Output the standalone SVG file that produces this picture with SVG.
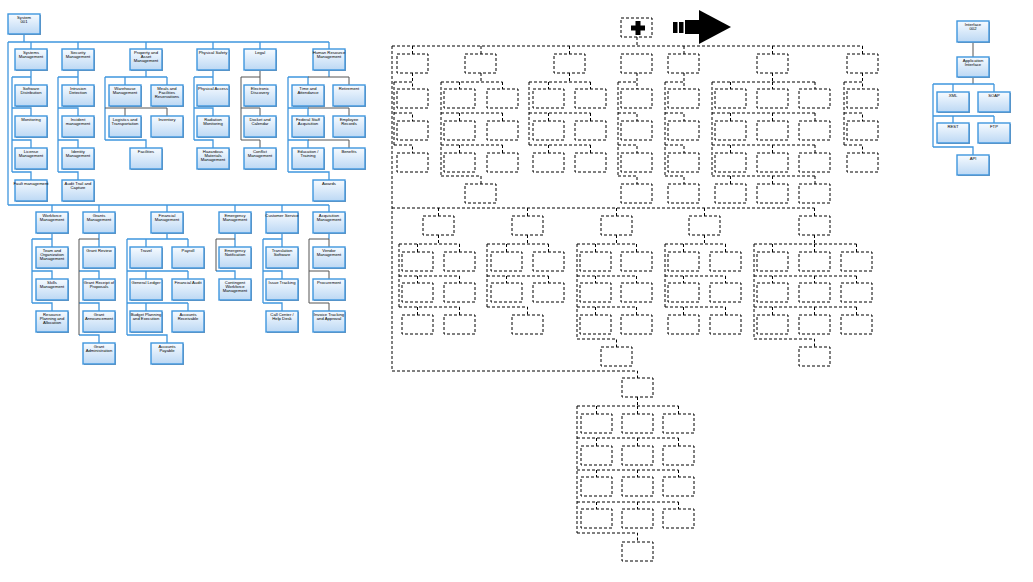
<svg xmlns="http://www.w3.org/2000/svg" width="1033" height="582" viewBox="0 0 1033 582">
<defs>
<linearGradient id="g" x1="0" y1="0" x2="0" y2="1"><stop offset="0" stop-color="#f7fbff"/><stop offset="1" stop-color="#bcd8f4"/></linearGradient>
<style>
.s{fill:#8a929c}
.b{fill:url(#g);stroke:#3f96de;stroke-width:1.4}
.t{font-family:"Liberation Sans",Arial,sans-serif;font-size:4.2px;text-anchor:middle;fill:#000}
.cb{fill:none;stroke:#3f96de;stroke-width:1.3}
.cg{fill:none;stroke:#555;stroke-width:1}
.d{fill:none;stroke:#000;stroke-width:1;stroke-dasharray:3 2}
.k{fill:#000}
</style>
</defs>
<rect width="1033" height="582" fill="#fff"/>

<g id="connectors">
<g id="left-connectors">
<path class="cb" d="M24 34V42M8 42H329M31 42V49M78 42V49M146 42V49M213 42V49M260 42V49M329 42V49M8 42V205M8 205H329M52 205V212M99 205V212M167 205V212M235 205V212M282 205V212M329 205V212"/>
<path class="cb" d="M31 70V77M12 77V172M12 77H31V85M12 108H31V116M12 140H31V148M12 172H31V180"/>
<path class="cb" d="M78 70V77M58 77V172M58 77H78V85M58 108H78V116M58 140H78V148M58 172H78V180"/>
<path class="cb" d="M146 70V77M105 77V140M105 77H167M125 77V85M167 77V85"/>
<path class="cg" d="M105 108H167M125 108V116M167 108V116"/>
<path class="cb" d="M105 140H146V148"/>
<path class="cb" d="M213 70V77M194 77V140M194 77H213V85M194 108H213V116M194 140H213V148"/>
<path class="cg" d="M260 70V77M241 77V140M241 77H260V85M241 108H260V116M241 140H260V148"/>
<path class="cb" d="M329 70V77M288 77V172M288 77H308V85M288 108H308V116M288 140H308V148M288 172H329V180"/>
<path class="cg" d="M308 77H349V85M308 108H349V116M308 140H349V148"/>
<path class="cb" d="M52 233V239M32 239V303M32 239H52V247M32 271H52V279M32 303H52V311"/>
<path class="cb" d="M99 233V239M99 239V247M79 271H99V279M79 303H99V311M79 335H99V343"/>
<path class="cg" d="M79 239V335M79 239H99"/>
<path class="cb" d="M167 233V239M127 239V335M127 239H188M146 239V247M188 239V247M127 271H188M146 271V279M188 271V279M127 303H188M146 303V311M188 303V311M127 335H167V343"/>
<path class="cb" d="M235 233V239M235 239V247M216 271H235V279"/>
<path class="cg" d="M216 239V271M216 239H235"/>
<path class="cb" d="M282 233V239M263 239V303M263 239H282V247M263 271H282V279M263 303H282V311"/>
<path class="cb" d="M329 233V239"/>
<path class="cg" d="M309 239V303M309 239H329V247M309 271H329V279M309 303H329V311"/>
</g>
<g id="right-connectors">
<path class="cg" d="M973 42V57"/>
<path class="cg" d="M973 77V84"/>
<path class="cb" d="M933 84V147M933 84H994M953 84V92M994 84V92M933 116H994M953 116V123M994 116V123M933 147H973V155"/>
</g>
<g id="dashed-connectors">
<path class="d" d="M637 37V46M392 46H862.5M412.5 46V54M481 46V54M569.5 46V54M684 46V54M772.5 46V54M862.5 46V54M392 46V371M392 208H814.5M438.5 208V216M527.5 208V216M616.5 208V216M704.5 208V216M814.5 208V216M392 371H637.5V378"/>
<path class="d" d="M412.5 73V82M394 82V145M394 82H412.5V89M394 113H412.5V121M394 145H412.5V153"/>
<path class="d" d="M481 73V82M441 82V176M441 82H502.5M459.5 82V89M502.5 82V89M441 113H502.5M459.5 113V121M502.5 113V121M441 145H502.5M459.5 145V153M502.5 145V153M441 176H481V184"/>
<path class="d" d="M569.5 73V82M529 82V145M529 82H590.5M548.5 82V89M590.5 82V89M529 113H590.5M548.5 113V121M590.5 113V121M529 145H590.5M548.5 145V153M590.5 145V153"/>
<path class="d" d="M637 73V82M618 82V176M618 82H637V89M618 113H637V121M618 145H637V153M618 176H637V184"/>
<path class="d" d="M684 73V82M665 82V176M665 82H684V89M665 113H684V121M665 145H684V153M665 176H684V184"/>
<path class="d" d="M772.5 73V82M712 82V176M712 82H815M730.5 82V89M772.5 82V89M815 82V89M712 113H815M730.5 113V121M772.5 113V121M815 113V121M712 145H815M730.5 145V153M772.5 145V153M815 145V153M712 176H815M730.5 176V184M772.5 176V184M815 176V184"/>
<path class="d" d="M862.5 73V82M844 82V145M844 82H862.5V89M844 113H862.5V121M844 145H862.5V153"/>
<path class="d" d="M438.5 235V244M399 244V307M399 244H459.5M417.5 244V252M459.5 244V252M399 276H459.5M417.5 276V283M459.5 276V283M399 307H459.5M417.5 307V315M459.5 307V315"/>
<path class="d" d="M527.5 235V244M487 244V307M487 244H548.5M506.5 244V252M548.5 244V252M487 276H548.5M506.5 276V283M548.5 276V283M487 307H527.5V315"/>
<path class="d" d="M616.5 235V244M577 244V339M577 244H636.5M595.5 244V252M636.5 244V252M577 276H636.5M595.5 276V283M636.5 276V283M577 307H636.5M595.5 307V315M636.5 307V315M577 339H616.5V347"/>
<path class="d" d="M704.5 235V244M665 244V307M665 244H725.5M683.5 244V252M725.5 244V252M665 276H725.5M683.5 276V283M725.5 276V283M665 307H725.5M683.5 307V315M725.5 307V315"/>
<path class="d" d="M814.5 235V244M754 244V339M754 244H856.5M772.5 244V252M814.5 244V252M856.5 244V252M754 276H856.5M772.5 276V283M814.5 276V283M856.5 276V283M754 307H856.5M772.5 307V315M814.5 307V315M856.5 307V315M754 339H814.5V347"/>
<path class="d" d="M637.5 397V406M577 406V533M577 406H678.5M596.5 406V414M637.5 406V414M678.5 406V414M577 438H678.5M596.5 438V446M637.5 438V446M678.5 438V446M577 470H678.5M596.5 470V477M637.5 470V477M678.5 470V477M577 502H678.5M596.5 502V509M637.5 502V509M678.5 502V509M577 533H637.5V542"/>
</g>
</g>

<g id="n-system"><rect class="s" x="9" y="15" width="32" height="20"/><rect class="b" x="8" y="14" width="32" height="20"/><text class="t" x="24" y="19">System</text><text class="t" x="24" y="23.2">001</text></g>

<g id="n-sysm"><rect class="s" x="16" y="50" width="32" height="21"/><rect class="b" x="15" y="49" width="32" height="21"/><text class="t" x="31" y="54">Systems</text><text class="t" x="31" y="58.2">Management</text></g>
<g id="n-secm"><rect class="s" x="63" y="50" width="32" height="21"/><rect class="b" x="62" y="49" width="32" height="21"/><text class="t" x="78" y="54">Security</text><text class="t" x="78" y="58.2">Management</text></g>
<g id="n-prop"><rect class="s" x="131" y="50" width="32" height="21"/><rect class="b" x="130" y="49" width="32" height="21"/><text class="t" x="146" y="54">Property and</text><text class="t" x="146" y="58.2">Asset</text><text class="t" x="146" y="62.4">Management</text></g>
<g id="n-phys"><rect class="s" x="198" y="50" width="32" height="21"/><rect class="b" x="197" y="49" width="32" height="21"/><text class="t" x="213" y="54">Physical Safety</text></g>
<g id="n-legal"><rect class="s" x="245" y="50" width="32" height="21"/><rect class="b" x="244" y="49" width="32" height="21"/><text class="t" x="260" y="54">Legal</text></g>
<g id="n-hr"><rect class="s" x="314" y="50" width="32" height="21"/><rect class="b" x="313" y="49" width="32" height="21"/><text class="t" x="329" y="54">Human Resource</text><text class="t" x="329" y="58.2">Management</text></g>

<g id="n-swdist"><rect class="s" x="16" y="86" width="32" height="21"/><rect class="b" x="15" y="85" width="32" height="21"/><text class="t" x="31" y="90">Software</text><text class="t" x="31" y="94.2">Distribution</text></g>
<g id="n-monitor"><rect class="s" x="16" y="117" width="32" height="21"/><rect class="b" x="15" y="116" width="32" height="21"/><text class="t" x="31" y="121">Monitoring</text></g>
<g id="n-license"><rect class="s" x="16" y="149" width="32" height="21"/><rect class="b" x="15" y="148" width="32" height="21"/><text class="t" x="31" y="153">License</text><text class="t" x="31" y="157.2">Management</text></g>
<g id="n-fault"><rect class="s" x="16" y="181" width="32" height="21"/><rect class="b" x="15" y="180" width="32" height="21"/><text class="t" x="31" y="185">Fault management</text></g>

<g id="n-intrusion"><rect class="s" x="63" y="86" width="32" height="21"/><rect class="b" x="62" y="85" width="32" height="21"/><text class="t" x="78" y="90">Intrusion</text><text class="t" x="78" y="94.2">Detection</text></g>
<g id="n-incident"><rect class="s" x="63" y="117" width="32" height="21"/><rect class="b" x="62" y="116" width="32" height="21"/><text class="t" x="78" y="121">Incident</text><text class="t" x="78" y="125.2">management</text></g>
<g id="n-identity"><rect class="s" x="63" y="149" width="32" height="21"/><rect class="b" x="62" y="148" width="32" height="21"/><text class="t" x="78" y="153">Identity</text><text class="t" x="78" y="157.2">Management</text></g>
<g id="n-audit"><rect class="s" x="63" y="181" width="32" height="21"/><rect class="b" x="62" y="180" width="32" height="21"/><text class="t" x="78" y="185">Audit Trail and</text><text class="t" x="78" y="189.2">Capture</text></g>

<g id="n-warehouse"><rect class="s" x="110" y="86" width="32" height="21"/><rect class="b" x="109" y="85" width="32" height="21"/><text class="t" x="125" y="90">Warehouse</text><text class="t" x="125" y="94.2">Management</text></g>
<g id="n-meals"><rect class="s" x="152" y="86" width="32" height="21"/><rect class="b" x="151" y="85" width="32" height="21"/><text class="t" x="167" y="90">Meals and</text><text class="t" x="167" y="94.2">Facilities</text><text class="t" x="167" y="98.4">Reservations</text></g>
<g id="n-logistics"><rect class="s" x="110" y="117" width="32" height="21"/><rect class="b" x="109" y="116" width="32" height="21"/><text class="t" x="125" y="121">Logistics and</text><text class="t" x="125" y="125.2">Transportation</text></g>
<g id="n-inventory"><rect class="s" x="152" y="117" width="32" height="21"/><rect class="b" x="151" y="116" width="32" height="21"/><text class="t" x="167" y="121">Inventory</text></g>
<g id="n-facilities"><rect class="s" x="131" y="149" width="32" height="21"/><rect class="b" x="130" y="148" width="32" height="21"/><text class="t" x="146" y="153">Facilities</text></g>

<g id="n-physaccess"><rect class="s" x="198" y="86" width="32" height="21"/><rect class="b" x="197" y="85" width="32" height="21"/><text class="t" x="213" y="90">Physical Access</text></g>
<g id="n-radiation"><rect class="s" x="198" y="117" width="32" height="21"/><rect class="b" x="197" y="116" width="32" height="21"/><text class="t" x="213" y="121">Radiation</text><text class="t" x="213" y="125.2">Monitoring</text></g>
<g id="n-hazard"><rect class="s" x="198" y="149" width="32" height="21"/><rect class="b" x="197" y="148" width="32" height="21"/><text class="t" x="213" y="153">Hazardous</text><text class="t" x="213" y="157.2">Materials</text><text class="t" x="213" y="161.4">Management</text></g>

<g id="n-ediscovery"><rect class="s" x="245" y="86" width="32" height="21"/><rect class="b" x="244" y="85" width="32" height="21"/><text class="t" x="260" y="90">Electronic</text><text class="t" x="260" y="94.2">Discovery</text></g>
<g id="n-docket"><rect class="s" x="245" y="117" width="32" height="21"/><rect class="b" x="244" y="116" width="32" height="21"/><text class="t" x="260" y="121">Docket and</text><text class="t" x="260" y="125.2">Calendar</text></g>
<g id="n-conflict"><rect class="s" x="245" y="149" width="32" height="21"/><rect class="b" x="244" y="148" width="32" height="21"/><text class="t" x="260" y="153">Conflict</text><text class="t" x="260" y="157.2">Management</text></g>

<g id="n-time"><rect class="s" x="293" y="86" width="32" height="21"/><rect class="b" x="292" y="85" width="32" height="21"/><text class="t" x="308" y="90">Time and</text><text class="t" x="308" y="94.2">Attendance</text></g>
<g id="n-retire"><rect class="s" x="334" y="86" width="32" height="21"/><rect class="b" x="333" y="85" width="32" height="21"/><text class="t" x="349" y="90">Retirement</text></g>
<g id="n-federal"><rect class="s" x="293" y="117" width="32" height="21"/><rect class="b" x="292" y="116" width="32" height="21"/><text class="t" x="308" y="121">Federal Staff</text><text class="t" x="308" y="125.2">Acquisition</text></g>
<g id="n-records"><rect class="s" x="334" y="117" width="32" height="21"/><rect class="b" x="333" y="116" width="32" height="21"/><text class="t" x="349" y="121">Employee</text><text class="t" x="349" y="125.2">Records</text></g>
<g id="n-education"><rect class="s" x="293" y="149" width="32" height="21"/><rect class="b" x="292" y="148" width="32" height="21"/><text class="t" x="308" y="153">Education /</text><text class="t" x="308" y="157.2">Training</text></g>
<g id="n-benefits"><rect class="s" x="334" y="149" width="32" height="21"/><rect class="b" x="333" y="148" width="32" height="21"/><text class="t" x="349" y="153">Benefits</text></g>
<g id="n-awards"><rect class="s" x="314" y="181" width="32" height="21"/><rect class="b" x="313" y="180" width="32" height="21"/><text class="t" x="329" y="185">Awards</text></g>

<g id="n-wf"><rect class="s" x="37" y="213" width="32" height="21"/><rect class="b" x="36" y="212" width="32" height="21"/><text class="t" x="52" y="217">Workforce</text><text class="t" x="52" y="221.2">Management</text></g>
<g id="n-grants"><rect class="s" x="84" y="213" width="32" height="21"/><rect class="b" x="83" y="212" width="32" height="21"/><text class="t" x="99" y="217">Grants</text><text class="t" x="99" y="221.2">Management</text></g>
<g id="n-fin"><rect class="s" x="152" y="213" width="32" height="21"/><rect class="b" x="151" y="212" width="32" height="21"/><text class="t" x="167" y="217">Financial</text><text class="t" x="167" y="221.2">Management</text></g>
<g id="n-em"><rect class="s" x="220" y="213" width="32" height="21"/><rect class="b" x="219" y="212" width="32" height="21"/><text class="t" x="235" y="217">Emergency</text><text class="t" x="235" y="221.2">Management</text></g>
<g id="n-cs"><rect class="s" x="267" y="213" width="32" height="21"/><rect class="b" x="266" y="212" width="32" height="21"/><text class="t" x="282" y="217">Customer Service</text></g>
<g id="n-acq"><rect class="s" x="314" y="213" width="32" height="21"/><rect class="b" x="313" y="212" width="32" height="21"/><text class="t" x="329" y="217">Acquisition</text><text class="t" x="329" y="221.2">Management</text></g>

<g id="n-team"><rect class="s" x="37" y="248" width="32" height="21"/><rect class="b" x="36" y="247" width="32" height="21"/><text class="t" x="52" y="252">Team and</text><text class="t" x="52" y="256.2">Organization</text><text class="t" x="52" y="260.4">Management</text></g>
<g id="n-skills"><rect class="s" x="37" y="280" width="32" height="21"/><rect class="b" x="36" y="279" width="32" height="21"/><text class="t" x="52" y="284">Skills</text><text class="t" x="52" y="288.2">Management</text></g>
<g id="n-resource"><rect class="s" x="37" y="312" width="32" height="21"/><rect class="b" x="36" y="311" width="32" height="21"/><text class="t" x="52" y="316">Resource</text><text class="t" x="52" y="320.2">Planning and</text><text class="t" x="52" y="324.4">Allocation</text></g>

<g id="n-grantreview"><rect class="s" x="84" y="248" width="32" height="21"/><rect class="b" x="83" y="247" width="32" height="21"/><text class="t" x="99" y="252">Grant Review</text></g>
<g id="n-grantreceipt"><rect class="s" x="84" y="280" width="32" height="21"/><rect class="b" x="83" y="279" width="32" height="21"/><text class="t" x="99" y="284">Grant Receipt of</text><text class="t" x="99" y="288.2">Proposals</text></g>
<g id="n-grantann"><rect class="s" x="84" y="312" width="32" height="21"/><rect class="b" x="83" y="311" width="32" height="21"/><text class="t" x="99" y="316">Grant</text><text class="t" x="99" y="320.2">Announcement</text></g>
<g id="n-grantadmin"><rect class="s" x="84" y="344" width="32" height="21"/><rect class="b" x="83" y="343" width="32" height="21"/><text class="t" x="99" y="348">Grant</text><text class="t" x="99" y="352.2">Administration</text></g>

<g id="n-travel"><rect class="s" x="131" y="248" width="32" height="21"/><rect class="b" x="130" y="247" width="32" height="21"/><text class="t" x="146" y="252">Travel</text></g>
<g id="n-payroll"><rect class="s" x="173" y="248" width="32" height="21"/><rect class="b" x="172" y="247" width="32" height="21"/><text class="t" x="188" y="252">Payroll</text></g>
<g id="n-ledger"><rect class="s" x="131" y="280" width="32" height="21"/><rect class="b" x="130" y="279" width="32" height="21"/><text class="t" x="146" y="284">General Ledger</text></g>
<g id="n-finaudit"><rect class="s" x="173" y="280" width="32" height="21"/><rect class="b" x="172" y="279" width="32" height="21"/><text class="t" x="188" y="284">Financial Audit</text></g>
<g id="n-budget"><rect class="s" x="131" y="312" width="32" height="21"/><rect class="b" x="130" y="311" width="32" height="21"/><text class="t" x="146" y="316">Budget Planning</text><text class="t" x="146" y="320.2">and Execution</text></g>
<g id="n-receivable"><rect class="s" x="173" y="312" width="32" height="21"/><rect class="b" x="172" y="311" width="32" height="21"/><text class="t" x="188" y="316">Accounts</text><text class="t" x="188" y="320.2">Receivable</text></g>
<g id="n-payable"><rect class="s" x="152" y="344" width="32" height="21"/><rect class="b" x="151" y="343" width="32" height="21"/><text class="t" x="167" y="348">Accounts</text><text class="t" x="167" y="352.2">Payable</text></g>

<g id="n-emnotify"><rect class="s" x="220" y="248" width="32" height="21"/><rect class="b" x="219" y="247" width="32" height="21"/><text class="t" x="235" y="252">Emergency</text><text class="t" x="235" y="256.2">Notification</text></g>
<g id="n-contingent"><rect class="s" x="220" y="280" width="32" height="21"/><rect class="b" x="219" y="279" width="32" height="21"/><text class="t" x="235" y="284">Contingent</text><text class="t" x="235" y="288.2">Workforce</text><text class="t" x="235" y="292.4">Management</text></g>

<g id="n-translation"><rect class="s" x="267" y="248" width="32" height="21"/><rect class="b" x="266" y="247" width="32" height="21"/><text class="t" x="282" y="252">Translation</text><text class="t" x="282" y="256.2">Software</text></g>
<g id="n-issue"><rect class="s" x="267" y="280" width="32" height="21"/><rect class="b" x="266" y="279" width="32" height="21"/><text class="t" x="282" y="284">Issue Tracking</text></g>
<g id="n-callcenter"><rect class="s" x="267" y="312" width="32" height="21"/><rect class="b" x="266" y="311" width="32" height="21"/><text class="t" x="282" y="316">Call Center /</text><text class="t" x="282" y="320.2">Help Desk</text></g>

<g id="n-vendor"><rect class="s" x="314" y="248" width="32" height="21"/><rect class="b" x="313" y="247" width="32" height="21"/><text class="t" x="329" y="252">Vendor</text><text class="t" x="329" y="256.2">Management</text></g>
<g id="n-procure"><rect class="s" x="314" y="280" width="32" height="21"/><rect class="b" x="313" y="279" width="32" height="21"/><text class="t" x="329" y="284">Procurement</text></g>
<g id="n-invoice"><rect class="s" x="314" y="312" width="32" height="21"/><rect class="b" x="313" y="311" width="32" height="21"/><text class="t" x="329" y="316">Invoice Tracking</text><text class="t" x="329" y="320.2">and Approval</text></g>

<g id="n-interface"><rect class="s" x="958" y="22" width="32" height="21"/><rect class="b" x="957" y="21" width="32" height="21"/><text class="t" x="973" y="26">Interface</text><text class="t" x="973" y="30.2">002</text></g>
<g id="n-appif"><rect class="s" x="958" y="58" width="32" height="20"/><rect class="b" x="957" y="57" width="32" height="20"/><text class="t" x="973" y="62">Application</text><text class="t" x="973" y="66.2">Interface</text></g>
<g id="n-xml"><rect class="s" x="938" y="93" width="32" height="20"/><rect class="b" x="937" y="92" width="32" height="20"/><text class="t" x="953" y="97">XML</text></g>
<g id="n-soap"><rect class="s" x="979" y="93" width="32" height="20"/><rect class="b" x="978" y="92" width="32" height="20"/><text class="t" x="994" y="97">SOAP</text></g>
<g id="n-rest"><rect class="s" x="938" y="124" width="32" height="20"/><rect class="b" x="937" y="123" width="32" height="20"/><text class="t" x="953" y="128">REST</text></g>
<g id="n-ftp"><rect class="s" x="979" y="124" width="32" height="20"/><rect class="b" x="978" y="123" width="32" height="20"/><text class="t" x="994" y="128">FTP</text></g>
<g id="n-api"><rect class="s" x="958" y="156" width="32" height="20"/><rect class="b" x="957" y="155" width="32" height="20"/><text class="t" x="973" y="160">API</text></g>

<g id="n-plus"><rect class="d" x="621" y="18" width="31" height="19"/><rect class="k" x="631" y="25.5" width="14" height="5"/><rect class="k" x="635.5" y="21" width="5" height="14"/></g>
<g id="arrow-icon"><rect class="k" x="673" y="22" width="4.5" height="11"/><rect class="k" x="679" y="22" width="4.5" height="11"/><rect class="k" x="685" y="20" width="15" height="14"/><path class="k" d="M699 10L731 27L699 44Z"/></g>

<g id="dashed-nodes">
<g id="d1"><rect class="d" x="397" y="54" width="31" height="19"/><rect class="d" x="397" y="89" width="31" height="19"/><rect class="d" x="397" y="121" width="31" height="19"/><rect class="d" x="397" y="153" width="31" height="19"/></g>
<g id="d2"><rect class="d" x="465" y="54" width="31" height="19"/><rect class="d" x="444" y="89" width="31" height="19"/><rect class="d" x="487" y="89" width="31" height="19"/><rect class="d" x="444" y="121" width="31" height="19"/><rect class="d" x="487" y="121" width="31" height="19"/><rect class="d" x="444" y="153" width="31" height="19"/><rect class="d" x="487" y="153" width="31" height="19"/><rect class="d" x="465" y="184" width="31" height="19"/></g>
<g id="d3"><rect class="d" x="554" y="54" width="31" height="19"/><rect class="d" x="533" y="89" width="31" height="19"/><rect class="d" x="575" y="89" width="31" height="19"/><rect class="d" x="533" y="121" width="31" height="19"/><rect class="d" x="575" y="121" width="31" height="19"/><rect class="d" x="533" y="153" width="31" height="19"/><rect class="d" x="575" y="153" width="31" height="19"/></g>
<g id="d4"><rect class="d" x="621" y="54" width="31" height="19"/><rect class="d" x="621" y="89" width="31" height="19"/><rect class="d" x="621" y="121" width="31" height="19"/><rect class="d" x="621" y="153" width="31" height="19"/><rect class="d" x="621" y="184" width="31" height="19"/></g>
<g id="d5"><rect class="d" x="668" y="54" width="31" height="19"/><rect class="d" x="668" y="89" width="31" height="19"/><rect class="d" x="668" y="121" width="31" height="19"/><rect class="d" x="668" y="153" width="31" height="19"/><rect class="d" x="668" y="184" width="31" height="19"/></g>
<g id="d6"><rect class="d" x="757" y="54" width="31" height="19"/>
<rect class="d" x="715" y="89" width="31" height="19"/><rect class="d" x="757" y="89" width="31" height="19"/><rect class="d" x="799" y="89" width="31" height="19"/>
<rect class="d" x="715" y="121" width="31" height="19"/><rect class="d" x="757" y="121" width="31" height="19"/><rect class="d" x="799" y="121" width="31" height="19"/>
<rect class="d" x="715" y="153" width="31" height="19"/><rect class="d" x="757" y="153" width="31" height="19"/><rect class="d" x="799" y="153" width="31" height="19"/>
<rect class="d" x="715" y="184" width="31" height="19"/><rect class="d" x="757" y="184" width="31" height="19"/><rect class="d" x="799" y="184" width="31" height="19"/></g>
<g id="d7"><rect class="d" x="847" y="54" width="31" height="19"/><rect class="d" x="847" y="89" width="31" height="19"/><rect class="d" x="847" y="121" width="31" height="19"/><rect class="d" x="847" y="153" width="31" height="19"/></g>
<g id="e1"><rect class="d" x="423" y="216" width="31" height="19"/><rect class="d" x="402" y="252" width="31" height="19"/><rect class="d" x="444" y="252" width="31" height="19"/><rect class="d" x="402" y="283" width="31" height="19"/><rect class="d" x="444" y="283" width="31" height="19"/><rect class="d" x="402" y="315" width="31" height="19"/><rect class="d" x="444" y="315" width="31" height="19"/></g>
<g id="e2"><rect class="d" x="512" y="216" width="31" height="19"/><rect class="d" x="491" y="252" width="31" height="19"/><rect class="d" x="533" y="252" width="31" height="19"/><rect class="d" x="491" y="283" width="31" height="19"/><rect class="d" x="533" y="283" width="31" height="19"/><rect class="d" x="512" y="315" width="31" height="19"/></g>
<g id="e3"><rect class="d" x="601" y="216" width="31" height="19"/><rect class="d" x="580" y="252" width="31" height="19"/><rect class="d" x="621" y="252" width="31" height="19"/><rect class="d" x="580" y="283" width="31" height="19"/><rect class="d" x="621" y="283" width="31" height="19"/><rect class="d" x="580" y="315" width="31" height="19"/><rect class="d" x="621" y="315" width="31" height="19"/><rect class="d" x="601" y="347" width="31" height="19"/></g>
<g id="e4"><rect class="d" x="689" y="216" width="31" height="19"/><rect class="d" x="668" y="252" width="31" height="19"/><rect class="d" x="710" y="252" width="31" height="19"/><rect class="d" x="668" y="283" width="31" height="19"/><rect class="d" x="710" y="283" width="31" height="19"/><rect class="d" x="668" y="315" width="31" height="19"/><rect class="d" x="710" y="315" width="31" height="19"/></g>
<g id="e5"><rect class="d" x="799" y="216" width="31" height="19"/>
<rect class="d" x="757" y="252" width="31" height="19"/><rect class="d" x="799" y="252" width="31" height="19"/><rect class="d" x="841" y="252" width="31" height="19"/>
<rect class="d" x="757" y="283" width="31" height="19"/><rect class="d" x="799" y="283" width="31" height="19"/><rect class="d" x="841" y="283" width="31" height="19"/>
<rect class="d" x="757" y="315" width="31" height="19"/><rect class="d" x="799" y="315" width="31" height="19"/><rect class="d" x="841" y="315" width="31" height="19"/>
<rect class="d" x="799" y="347" width="31" height="19"/></g>
<g id="f1"><rect class="d" x="622" y="378" width="31" height="19"/>
<rect class="d" x="581" y="414" width="31" height="19"/><rect class="d" x="622" y="414" width="31" height="19"/><rect class="d" x="663" y="414" width="31" height="19"/>
<rect class="d" x="581" y="446" width="31" height="19"/><rect class="d" x="622" y="446" width="31" height="19"/><rect class="d" x="663" y="446" width="31" height="19"/>
<rect class="d" x="581" y="477" width="31" height="19"/><rect class="d" x="622" y="477" width="31" height="19"/><rect class="d" x="663" y="477" width="31" height="19"/>
<rect class="d" x="581" y="509" width="31" height="19"/><rect class="d" x="622" y="509" width="31" height="19"/><rect class="d" x="663" y="509" width="31" height="19"/>
<rect class="d" x="622" y="542" width="31" height="19"/></g>
</g>
</svg>
